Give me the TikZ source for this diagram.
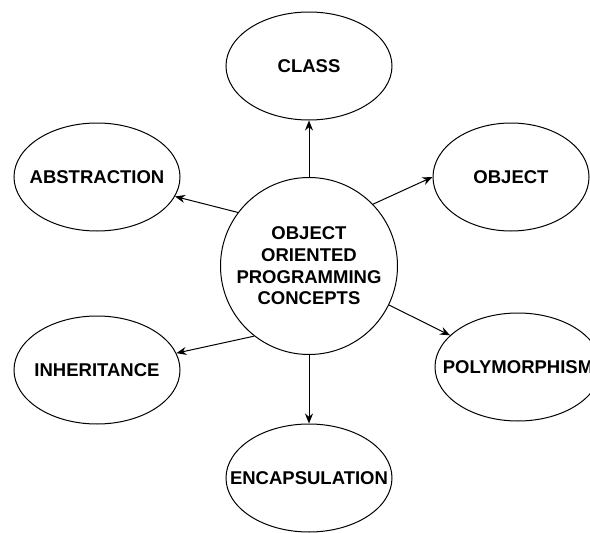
\documentclass[tikz,border=0pt]{standalone}
\usepackage{fontspec}
\setmainfont{Liberation Sans}
\usetikzlibrary{shapes.geometric,arrows.meta}

% text that may run over the ellipse without widening it
\newcommand{\oopname}[1]{\makebox[0pt]{#1}}

\tikzset{
  concept/.style={ellipse, draw, line width=1pt, inner sep=0pt,
    minimum width=166pt, minimum height=108pt,
    font=\fontsize{18.5}{22}\selectfont\bfseries},
  core/.style={circle, draw, line width=1pt, inner sep=0pt,
    minimum size=177pt, align=center,
    font=\fontsize{18.5}{21.7}\selectfont\bfseries},
  link/.style={line width=1pt, -{Stealth[length=10pt,width=8pt]}}
}

\begin{document}
\begin{tikzpicture}[x=1pt,y=-1pt]
\useasboundingbox[fill=white] (0,0) rectangle (590,533);

% Centre
\node[core] (oop) at (309,266) {OBJECT\\ORIENTED\\PROGRAMMING\\CONCEPTS};

% Concepts around it
\node[concept] (class) at (309,66) {\oopname{CLASS}};
\node[concept, minimum width=156pt] (object) at (511,177) {\oopname{OBJECT}};
\node[concept] (abstraction) at (97,177) {\oopname{ABSTRACTION}};
\node[concept] (inheritance) at (97,370) {\oopname{INHERITANCE}};
\node[concept] (polymorphism) at (518,367) {\oopname{POLYMORPHISM}};
\node[concept] (encapsulation) at (309,478) {\oopname{ENCAPSULATION}};

% Arrows out of the centre
\draw[link] (oop.north) -- (class.south);
\draw[link] (oop.44) -- (object.west);
\draw[link] (oop.143) -- (abstraction.-14);
\draw[link] (oop.232) -- (inheritance.12);
\draw[link] (oop.-26) -- (polymorphism.155);
\draw[link] (oop.south) -- (encapsulation.north);
\end{tikzpicture}
\end{document}
